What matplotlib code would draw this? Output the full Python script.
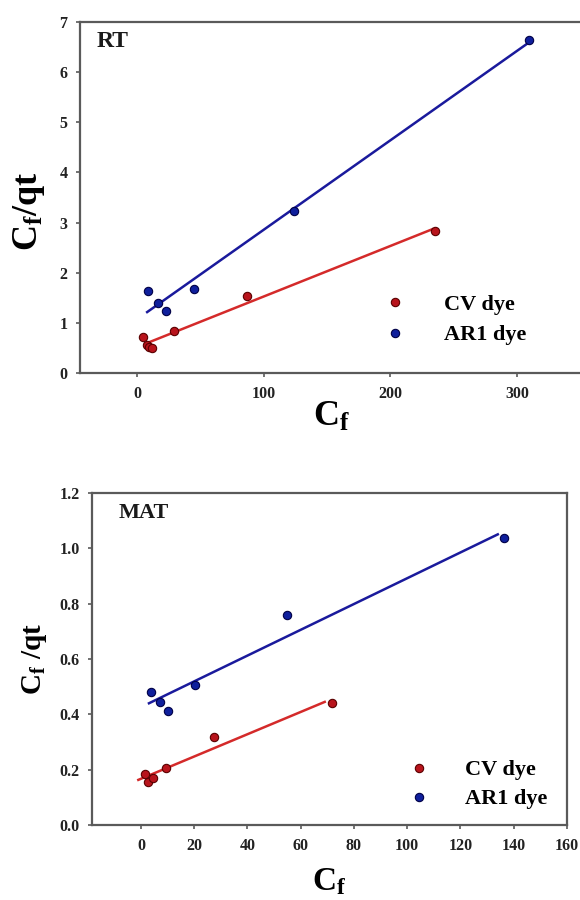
import numpy as np
import matplotlib
matplotlib.use("Agg")
import matplotlib.pyplot as plt
from matplotlib.ticker import FormatStrFormatter

# ---------------- data ----------------
# RT panel
rt_cv_x = [4.5, 7.7, 9.7, 11.6, 29.2, 87.1, 235.0]
rt_cv_y = [0.72, 0.56, 0.51, 0.50, 0.83, 1.54, 2.84]
rt_ar_x = [8.5, 16.4, 22.9, 45.0, 124.2, 309.0]
rt_ar_y = [1.64, 1.39, 1.23, 1.68, 3.24, 6.64]
rt_cv_fit_range = [6.5, 233.0]
rt_ar_fit_range = [8.0, 307.5]

# MAT panel
mat_cv_x = [1.5, 2.8, 4.5, 9.5, 27.3, 71.7]
mat_cv_y = [0.184, 0.155, 0.170, 0.207, 0.317, 0.442]
mat_ar_x = [3.8, 7.2, 10.1, 20.1, 54.8, 136.4]
mat_ar_y = [0.480, 0.444, 0.413, 0.507, 0.758, 1.037]
mat_cv_fit_range = [-1.0, 69.0]
mat_ar_fit_range = [3.0, 134.0]

series_labels = ["CV dye", "AR1 dye"]
panel_titles = ["RT", "MAT"]
rt_xticks = [0, 100, 200, 300]
rt_yticks = [0, 1, 2, 3, 4, 5, 6, 7]
mat_xticks = [0, 20, 40, 60, 80, 100, 120, 140, 160]
mat_yticks = [0.0, 0.2, 0.4, 0.6, 0.8, 1.0, 1.2]

# ---------------- style ----------------
plt.rcParams['font.family'] = ['Liberation Serif', 'DejaVu Serif']
plt.rcParams['font.weight'] = 'bold'
plt.rcParams['mathtext.fontset'] = 'custom'
plt.rcParams['mathtext.rm'] = 'Liberation Serif:bold'
plt.rcParams['mathtext.it'] = 'Liberation Serif:bold'
plt.rcParams['mathtext.bf'] = 'Liberation Serif:bold'

RED_LINE = '#d42a2a'
RED_FACE = '#b8141c'
RED_EDGE = '#5a0000'
BLUE_LINE = '#1a1a9c'
BLUE_FACE = '#0f1f9c'
BLUE_EDGE = '#000046'
SPINE = '#5a5a5a'

W, H = 580, 900
fig = plt.figure(figsize=(W / 100, H / 100), dpi=100)


def px_axes(left, top, right, bottom):
    return fig.add_axes([left / W, 1 - bottom / H, (right - left) / W, (bottom - top) / H])


def draw_panel(ax, cvx, cvy, arx, ary, cvr, arr, xlim, ylim, xticks, yticks,
               title, title_size, title_xy, ylabel, ylab_size, yfmt, leg_anchor,
               textpad, labspace, ylab_xy, xlab_size, xlab_y):
    for x, y, rng, lc, fc, ec, lab in [
        (cvx, cvy, cvr, RED_LINE, RED_FACE, RED_EDGE, series_labels[0]),
        (arx, ary, arr, BLUE_LINE, BLUE_FACE, BLUE_EDGE, series_labels[1]),
    ]:
        coef = np.polyfit(x, y, 1)
        xr = np.array(rng)
        ax.plot(xr, np.polyval(coef, xr), color=lc, lw=1.8, zorder=2)
        ax.plot(x, y, 'o', ms=6, mfc=fc, mec=ec, mew=0.8, ls='none',
                zorder=3, label=lab)
    ax.set_xlim(*xlim)
    ax.set_ylim(*ylim)
    ax.set_xticks(xticks)
    ax.set_yticks(yticks)
    if yfmt:
        ax.yaxis.set_major_formatter(FormatStrFormatter(yfmt))
    for s in ax.spines.values():
        s.set_color(SPINE)
        s.set_linewidth(1.6)
    ax.tick_params(direction='out', length=3, width=1.2, color=SPINE,
                   labelsize=11.5, pad=6)
    for lab in ax.get_xticklabels() + ax.get_yticklabels():
        lab.set_fontweight('bold')
        lab.set_color('#222222')
    ax.text(title_xy[0], title_xy[1], title, transform=ax.transAxes,
            fontsize=title_size, fontweight='bold', va='top', ha='left',
            color='#1a1a1a')
    ax.set_ylabel(ylabel, fontsize=ylab_size, fontweight='bold')
    ax.yaxis.set_label_coords(*ylab_xy)
    ax.set_xlabel(r'C$_{\mathrm{f}}$', fontsize=xlab_size, fontweight='bold')
    ax.xaxis.set_label_coords(0.5, xlab_y)
    ax.legend(loc='upper left', bbox_to_anchor=leg_anchor, frameon=False,
              handletextpad=textpad, labelspacing=labspace,
              borderpad=0, borderaxespad=0, handlelength=2,
              prop={'weight': 'bold', 'size': 16})


ax1 = px_axes(80, 22, 583, 373)
draw_panel(ax1, rt_cv_x, rt_cv_y, rt_ar_x, rt_ar_y, rt_cv_fit_range, rt_ar_fit_range,
           (-45, 352), (0, 7), rt_xticks, rt_yticks,
           panel_titles[0], 17, (0.034, 0.975),
           r'C$_{\mathrm{f}}$/qt', 26, None, (0.582, 0.224), 1.2, 0.45,
           (-0.065, 0.46), 26, -0.078)

ax2 = px_axes(92, 493, 567, 825)
draw_panel(ax2, mat_cv_x, mat_cv_y, mat_ar_x, mat_ar_y, mat_cv_fit_range, mat_ar_fit_range,
           (-18.4, 160), (0, 1.2), mat_xticks, mat_yticks,
           panel_titles[1], 16, (0.055, 0.97),
           r'C$_{\mathrm{f}}$ /qt', 21, '%.1f', (0.642, 0.196), 1.05, 0.38,
           (-0.09, 0.5), 24, -0.125)

fig.savefig('out.png', dpi=100)
